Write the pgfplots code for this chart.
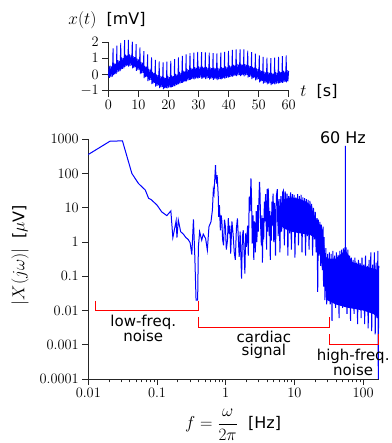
\documentclass[border=0pt]{standalone}
\usepackage{fontspec}
\setmainfont{DejaVu Sans}
\usepackage{pgfplots}
\pgfplotsset{compat=1.18}
\definecolor{ecgblue}{RGB}{0,0,255}
\definecolor{brred}{RGB}{255,0,0}
\pgfplotsset{
  myaxis/.style={
    scale only axis,
    axis x line*=bottom, axis y line*=left,
    axis line style={black!85, line width=0.6pt},
    tick align=outside,
    major tick length=6pt, minor tick length=3.5pt,
    tick style={black!85, line width=0.6pt},
    tick label style={font=\fontsize{15}{18}\selectfont},
    label style={font=\fontsize{16}{19}\selectfont},
    clip=false,
  }
}
\begin{document}
\begin{tikzpicture}
\path[use as bounding box] (0pt,0pt) rectangle (391pt,443pt);
% ---------------- top: time signal ----------------
\begin{axis}[myaxis, at={(108.3pt,352.3pt)}, anchor=south west,
  width=180.4pt, height=48.7pt,
  xmin=0, xmax=60, ymin=-1, ymax=2,
  xtick={0,10,...,60}, ytick={-1,0,1,2}]
\addplot[ecgblue, line width=0.9pt] coordinates {
(0,-0.10)
(0.30,0.49)(0.38,-0.21)(0.60,0.54)(0.85,-0.16)(1.10,0.49)(1.35,-0.13)
(1.58,1.61)(1.66,-0.04)(1.88,0.71)(2.13,0.01)(2.38,0.66)(2.63,0.04)
(2.86,1.78)(2.94,0.13)(3.16,0.88)(3.41,0.18)(3.66,0.83)(3.91,0.21)
(4.14,1.95)(4.22,0.30)(4.44,1.05)(4.69,0.35)(4.94,1.00)(5.19,0.38)
(5.42,2.12)(5.50,0.47)(5.72,1.22)(5.97,0.52)(6.22,1.17)(6.47,0.55)
(6.70,2.13)(6.78,0.48)(7.00,1.23)(7.25,0.53)(7.50,1.18)(7.75,0.56)
(7.98,2.02)(8.06,0.37)(8.28,1.12)(8.53,0.42)(8.78,1.07)(9.03,0.45)
(9.26,1.87)(9.34,0.22)(9.56,0.97)(9.81,0.27)(10.06,0.92)(10.31,0.30)
(10.54,1.67)(10.62,0.02)(10.84,0.77)(11.09,0.07)(11.34,0.72)(11.59,0.10)
(11.82,1.43)(11.90,-0.22)(12.12,0.53)(12.37,-0.17)(12.62,0.48)(12.87,-0.14)
(13.10,1.24)(13.18,-0.41)(13.40,0.34)(13.65,-0.36)(13.90,0.29)(14.15,-0.33)
(14.38,1.05)(14.46,-0.60)(14.68,0.15)(14.93,-0.55)(15.18,0.10)(15.43,-0.52)
(15.66,0.90)(15.74,-0.75)(15.96,0.00)(16.21,-0.70)(16.46,-0.05)(16.71,-0.67)
(16.94,0.81)(17.02,-0.84)(17.24,-0.09)(17.49,-0.79)(17.74,-0.14)(17.99,-0.76)
(18.22,0.74)(18.30,-0.91)(18.52,-0.16)(18.77,-0.86)(19.02,-0.21)(19.27,-0.83)
(19.50,0.79)(19.58,-0.86)(19.80,-0.11)(20.05,-0.81)(20.30,-0.16)(20.55,-0.78)
(20.78,0.84)(20.86,-0.81)(21.08,-0.06)(21.33,-0.76)(21.58,-0.11)(21.83,-0.73)
(22.06,0.94)(22.14,-0.71)(22.36,0.04)(22.61,-0.66)(22.86,-0.01)(23.11,-0.63)
(23.34,1.05)(23.42,-0.60)(23.64,0.15)(23.89,-0.55)(24.14,0.10)(24.39,-0.52)
(24.62,1.14)(24.70,-0.51)(24.92,0.24)(25.17,-0.46)(25.42,0.19)(25.67,-0.43)
(25.90,1.23)(25.98,-0.42)(26.20,0.33)(26.45,-0.37)(26.70,0.28)(26.95,-0.34)
(27.18,1.31)(27.26,-0.34)(27.48,0.41)(27.73,-0.29)(27.98,0.36)(28.23,-0.26)
(28.46,1.35)(28.54,-0.30)(28.76,0.45)(29.01,-0.25)(29.26,0.40)(29.51,-0.22)
(29.74,1.39)(29.82,-0.26)(30.04,0.49)(30.29,-0.21)(30.54,0.44)(30.79,-0.18)
(31.02,1.38)(31.10,-0.27)(31.32,0.48)(31.57,-0.22)(31.82,0.43)(32.07,-0.19)
(32.30,1.36)(32.38,-0.29)(32.60,0.46)(32.85,-0.24)(33.10,0.41)(33.35,-0.21)
(33.58,1.34)(33.66,-0.31)(33.88,0.44)(34.13,-0.26)(34.38,0.39)(34.63,-0.23)
(34.86,1.32)(34.94,-0.33)(35.16,0.42)(35.41,-0.28)(35.66,0.37)(35.91,-0.25)
(36.14,1.30)(36.22,-0.35)(36.44,0.40)(36.69,-0.30)(36.94,0.35)(37.19,-0.27)
(37.42,1.35)(37.50,-0.30)(37.72,0.45)(37.97,-0.25)(38.22,0.40)(38.47,-0.22)
(38.70,1.39)(38.78,-0.26)(39.00,0.49)(39.25,-0.21)(39.50,0.44)(39.75,-0.18)
(39.98,1.45)(40.06,-0.20)(40.28,0.55)(40.53,-0.15)(40.78,0.50)(41.03,-0.12)
(41.26,1.51)(41.34,-0.14)(41.56,0.61)(41.81,-0.09)(42.06,0.56)(42.31,-0.06)
(42.54,1.55)(42.62,-0.10)(42.84,0.65)(43.09,-0.05)(43.34,0.60)(43.59,-0.02)
(43.82,1.55)(43.90,-0.10)(44.12,0.65)(44.37,-0.05)(44.62,0.60)(44.87,-0.02)
(45.10,1.54)(45.18,-0.11)(45.40,0.64)(45.65,-0.06)(45.90,0.59)(46.15,-0.03)
(46.38,1.46)(46.46,-0.19)(46.68,0.56)(46.93,-0.14)(47.18,0.51)(47.43,-0.11)
(47.66,1.37)(47.74,-0.28)(47.96,0.47)(48.21,-0.23)(48.46,0.42)(48.71,-0.20)
(48.94,1.28)(49.02,-0.37)(49.24,0.38)(49.49,-0.32)(49.74,0.33)(49.99,-0.29)
(50.22,1.17)(50.30,-0.48)(50.52,0.27)(50.77,-0.43)(51.02,0.22)(51.27,-0.40)
(51.50,1.08)(51.58,-0.57)(51.80,0.18)(52.05,-0.52)(52.30,0.13)(52.55,-0.49)
(52.78,1.04)(52.86,-0.61)(53.08,0.14)(53.33,-0.56)(53.58,0.09)(53.83,-0.53)
(54.06,1.00)(54.14,-0.65)(54.36,0.10)(54.61,-0.60)(54.86,0.05)(55.11,-0.57)
(55.34,1.04)(55.42,-0.61)(55.64,0.14)(55.89,-0.56)(56.14,0.09)(56.39,-0.53)
(56.62,1.09)(56.70,-0.56)(56.92,0.19)(57.17,-0.51)(57.42,0.14)(57.67,-0.48)
(57.90,1.13)(57.98,-0.52)(58.20,0.23)(58.45,-0.47)(58.70,0.18)(58.95,-0.44)
(59.18,1.17)(59.26,-0.48)(59.48,0.27)(59.73,-0.43)(59.98,0.22)
};
\node[font=\fontsize{16}{19}\selectfont] at (rel axis cs:-0.007,1.45) {$x(t)$\ \ [mV]};
\node[font=\fontsize{16}{19}\selectfont] at (rel axis cs:1.168,-0.02) {$t$\ \ [s]};
\end{axis}
% ---------------- bottom: spectrum ----------------
\begin{axis}[myaxis, at={(88.3pt,64pt)}, anchor=south west,
  width=290.7pt, height=239.7pt,
  xmode=log, ymode=log,
  xmin=0.01, xmax=170, ymin=1e-4, ymax=1000,
  xtick={0.01,0.1,1,10,100},
  xticklabels={$0.01$,$0.1$,$1$,$10$,$100$},
  ytick={1e-4,1e-3,0.01,0.1,1,10,100,1000},
  yticklabels={$0.0001$,$0.001$,$0.01$,$0.1$,$1$,$10$,$100$,$1000$},
  yminorticks=false,
  xlabel={$f=\displaystyle\frac{\omega}{2\pi}$\ \ [Hz]},
  ylabel={$|X(j\omega)|$\ \ [$\mu$V]},
  xlabel style={at={(axis description cs:0.498,-0.192)}, anchor=center},
  ylabel style={at={(axis description cs:-0.235,0.517)}, anchor=center, rotate=0},
]
% solid cores of the dense bands
\addplot[fill=ecgblue, draw=none] coordinates {
(5.6,9)(7,18)(9,20)(12,18)(15,15)(17,12)(18.5,8)(20,5.5)(22,3.8)(24,3)(26,2.2)
(26,0.5)(24,0.6)(22,0.8)(20,1.3)(17,1.6)(12,1.8)(9,2)(7,2.5)(5.6,4)
};
\addplot[fill=ecgblue, draw=none] coordinates {
(26,1.5)(27,0.9)(28,0.42)(30,0.33)(40,0.33)(46,0.42)(52,0.52)(56,0.55)(62,0.4)
(70,0.26)(100,0.2)(140,0.17)(168,0.15)
(168,0.006)(140,0.008)(100,0.01)(60,0.012)(40,0.015)(30,0.02)(28,0.05)(27,0.1)(26,0.4)
};
\addplot[ecgblue, line width=1pt] coordinates {
(0.010,360)(0.0207,880)(0.0314,900)(0.0431,100)(0.0538,51)(0.0675,33)
(0.0754,19)(0.0817,17.5)(0.1,12)(0.117,7.6)(0.139,5.9)(0.159,8.1)(0.17,1.35)
(0.19,4.2)(0.195,1.35)(0.204,4.4)(0.221,2.0)(0.242,1.7)(0.263,1.35)(0.283,1.2)
(0.303,0.96)(0.321,0.43)(0.339,4.6)(0.355,0.37)(0.37,0.02)(0.39,0.02)(0.40,0.72)
(0.417,2.0)(0.447,1.13)(0.471,1.7)(0.51,1.26)(0.54,0.58)(0.57,2.8)(0.61,3.9)
(0.64,8.6)(0.66,33)(0.675,26)(0.69,60)(0.71,177)(0.72,80)(0.74,51)(0.75,90)
(0.77,33)
(0.78,20)(0.79,5.4)(0.81,12)(0.835,2.2)(0.86,6)(0.88,3.9)(0.9,1.2)(0.93,0.8)
(0.96,4.5)(0.99,2.8)(1.02,0.6)(1.06,1.13)(1.09,5)(1.12,1.7)(1.15,3)(1.18,0.46)
(1.23,4)(1.28,1.7)(1.33,0.5)(1.38,0.3)(1.43,2.5)(1.48,4.9)(1.52,1.5)(1.57,0.37)
(1.62,2)(1.7,0.085)(1.75,1.5)(1.8,2.2)(1.85,0.5)(1.9,0.12)(1.95,1.8)(2.0,0.72)
(2.08,3.0)(2.13,0.4)(2.2,21)(2.26,8)(2.33,72)(2.38,15)(2.43,0.9)(2.5,6)
(2.56,0.3)(2.62,4)(2.7,0.5)(2.78,8)(2.84,1.0)(2.92,12)(2.98,2)(3.05,20)
(3.1,57)(3.16,25)(3.22,3)(3.3,0.8)(3.36,6)(3.42,0.25)(3.5,5)(3.57,1.2)
(3.65,15)(3.72,4)(3.8,25)(3.86,8)(3.93,0.6)(4.0,35)(4.08,2)(4.15,37)
(4.22,12)(4.3,1.5)(4.38,8)(4.45,0.3)(4.52,6)(4.6,1.1)(4.7,15)(4.8,3)
(4.88,26)(4.94,10)(5.0,1.0)
(5.15,14)(5.3,0.4)(5.46,22)(5.63,35)(5.8,1.5)(5.97,18)(6.15,0.5)(6.33,22)
(6.52,2)(6.72,28)(6.92,32)(7.13,0.8)(7.34,30)(7.56,2.5)(7.79,26)(8.02,0.4)
(8.26,22)(8.51,1.8)(8.77,28)(9.03,0.6)(9.3,25)(9.58,3)(9.87,24)(10.17,0.35)
(10.47,20)(10.79,2)(11.11,25)(11.44,0.8)(11.79,22)(12.14,3)(12.5,24)
(12.88,0.5)(13.27,20)(13.66,2.2)(14.07,19)(14.5,0.4)(14.93,18)(15.38,1.5)
(15.84,17)(16.32,0.6)(16.81,16)(17.31,2.5)(17.83,13)(18.37,0.4)(18.92,10)
(19.49,1.2)(20.07,7.6)(20.67,0.5)(21.29,5)(21.8,0.035)(22.3,4.5)(22.9,0.4)
(23.5,3.9)(24.1,0.2)(24.69,3.2)(25.43,0.15)(26.19,2.8)(26.5,0.05)(26.98,1.4)
(27.79,0.02)(28.62,0.66)(29.48,0.015)(30.36,0.45)(31.27,0.025)(32.21,0.5)
(33.18,0.015)(34.17,0.45)(35.2,0.005)(36.25,0.55)(37.34,0.02)(38.46,0.4)
(39.62,0.012)(40.8,0.5)(42.03,0.025)(43.29,0.42)(44.59,0.006)(45.92,0.55)
(47.3,0.018)(48.72,0.6)(50.18,0.012)(51.69,0.65)(53.24,0.02)(54.3,0.7)
(54.9,0.03)(55.0,640)(55.1,0.03)(56.48,0.7)(58.17,0.008)(59.92,0.6)
(61.71,0.02)(63.57,0.4)(65.47,0.005)(67.44,0.35)(69.46,0.02)(71.54,0.3)
(73.69,0.008)(75.9,0.35)(78.18,0.015)(80.52,0.25)(82.94,0.004)(85.43,0.3)
(87.99,0.015)(90.63,0.24)(93.35,0.006)(96.15,0.35)(99.03,0.015)(102.0,0.22)
(105.1,0.004)(108.2,0.4)(111.5,0.012)(114.8,0.2)(118.3,0.003)(121.8,0.3)
(125.5,0.01)(129.2,0.5)(133.1,0.0025)(137.1,0.22)(141.2,0.008)(145.5,0.5)
(149.8,0.002)(154.3,0.25)(159.0,0.006)(163.7,0.55)(166,0.0001)(168.6,0.2)
};
% the 60 Hz line, drawn bolder
\addplot[ecgblue, line width=1.5pt] coordinates {(55.0,0.5)(55.0,640)};
% brackets
\addplot[brred, line width=0.9pt] coordinates {(0.0128,0.019)(0.0128,0.01)(0.40,0.01)(0.40,0.019)};
\addplot[brred, line width=0.9pt] coordinates {(0.40,0.0065)(0.40,0.0033)(32,0.0033)(32,0.0065)};
\addplot[brred, line width=0.9pt] coordinates {(32,0.002)(32,0.00103)(169,0.00103)(169,0.002)};
\node[align=center, font=\fontsize{15}{13.5}\selectfont] at (rel axis cs:0.189,0.211) {low-freq.\\noise};
\node[align=center, font=\fontsize{15}{13.5}\selectfont] at (rel axis cs:0.604,0.143) {cardiac\\signal};
\node[align=center, font=\fontsize{15}{13.5}\selectfont] at (rel axis cs:0.911,0.070) {high-freq.\\noise};
\node[font=\fontsize{16}{19}\selectfont] at (rel axis cs:0.876,1.005) {60 Hz};
\end{axis}
\end{tikzpicture}
\end{document}
